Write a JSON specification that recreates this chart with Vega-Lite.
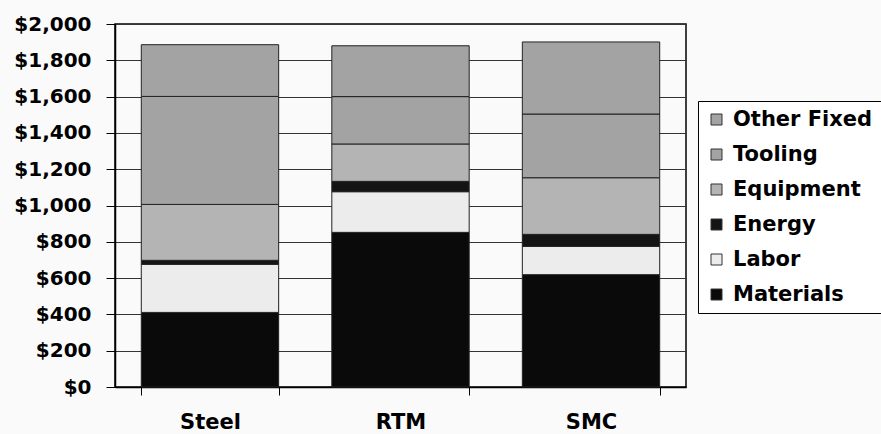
{
  "$schema": "https://vega.github.io/schema/vega-lite/v6.json",
  "autosize": {"type": "none"},
  "padding": {"left": 115, "top": 24, "right": 195, "bottom": 47},
  "width": 571,
  "height": 363,
  "background": "#fafafa",
  "config": {
    "font": "DejaVu Sans",
    "view": {"stroke": "#000000", "strokeWidth": 1.5, "fill": "#fafafa"}
  },
  "data": {
    "values": [
      {"material": "Steel", "cost": "Materials", "value": 411},
      {"material": "Steel", "cost": "Labor", "value": 265},
      {"material": "Steel", "cost": "Energy", "value": 22},
      {"material": "Steel", "cost": "Equipment", "value": 308},
      {"material": "Steel", "cost": "Tooling", "value": 595},
      {"material": "Steel", "cost": "Other Fixed", "value": 285},
      {"material": "RTM", "cost": "Materials", "value": 852},
      {"material": "RTM", "cost": "Labor", "value": 224},
      {"material": "RTM", "cost": "Energy", "value": 57},
      {"material": "RTM", "cost": "Equipment", "value": 206},
      {"material": "RTM", "cost": "Tooling", "value": 261},
      {"material": "RTM", "cost": "Other Fixed", "value": 280},
      {"material": "SMC", "cost": "Materials", "value": 619},
      {"material": "SMC", "cost": "Labor", "value": 156},
      {"material": "SMC", "cost": "Energy", "value": 66},
      {"material": "SMC", "cost": "Equipment", "value": 312},
      {"material": "SMC", "cost": "Tooling", "value": 351},
      {"material": "SMC", "cost": "Other Fixed", "value": 397}
    ]
  },
  "transform": [
    {"stack": "value", "groupby": ["material"], "as": ["v0", "v1"]}
  ],
  "mark": {"type": "bar", "stroke": "#222222", "strokeWidth": 1},
  "encoding": {
    "x": {
      "field": "material",
      "type": "nominal",
      "sort": ["Steel", "RTM", "SMC"],
      "scale": {"paddingInner": 0.279, "paddingOuter": 0.138},
      "axis": {
        "title": null,
        "labelAngle": 0,
        "labelFont": "DejaVu Sans",
        "labelFontWeight": "bold",
        "labelFontSize": 21,
        "labelColor": "#000000",
        "labelPadding": 16,
        "tickBand": "extent",
        "tickSize": 8,
        "tickColor": "#000000",
        "domainColor": "#000000",
        "domainWidth": 1.5
      }
    },
    "y": {
      "field": "v0",
      "type": "quantitative",
      "scale": {"domain": [0, 2000], "nice": false},
      "axis": {
        "title": null,
        "values": [0, 200, 400, 600, 800, 1000, 1200, 1400, 1600, 1800, 2000],
        "format": "$,.0f",
        "labelFont": "DejaVu Sans",
        "labelFontWeight": "bold",
        "labelFontSize": 20,
        "labelColor": "#000000",
        "labelPadding": 15,
        "tickSize": 9,
        "tickColor": "#000000",
        "domainColor": "#000000",
        "domainWidth": 1.5,
        "gridColor": "#333333",
        "gridWidth": 1.2
      }
    },
    "y2": {"field": "v1"},
    "color": {
      "field": "cost",
      "type": "nominal",
      "scale": {
        "domain": ["Other Fixed", "Tooling", "Equipment", "Energy", "Labor", "Materials"],
        "range": ["#a3a3a3", "#a3a3a3", "#b4b4b4", "#141414", "#ececec", "#0a0a0a"]
      },
      "legend": {
        "title": null,
        "orient": "none",
        "legendX": 583,
        "legendY": 77,
        "direction": "vertical",
        "fillColor": "#ffffff",
        "strokeColor": "#000000",
        "padding": 8,
        "symbolType": "square",
        "symbolSize": 121,
        "symbolStrokeColor": "#333333",
        "symbolStrokeWidth": 1,
        "labelFont": "DejaVu Sans",
        "labelFontWeight": "bold",
        "labelFontSize": 21,
        "labelColor": "#000000",
        "labelLimit": 300,
        "rowPadding": 13,
        "labelOffset": 6
      }
    }
  }
}
